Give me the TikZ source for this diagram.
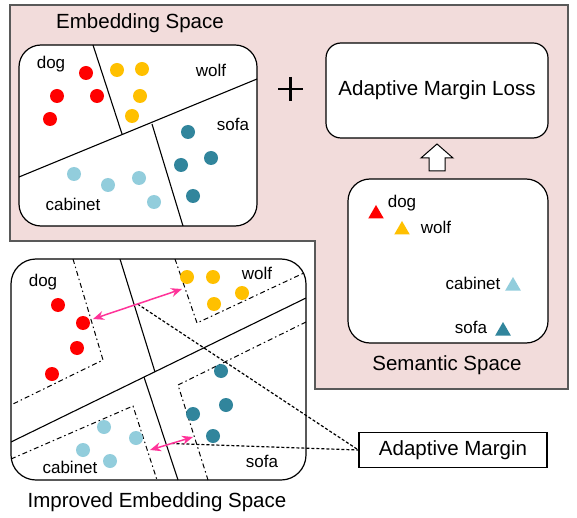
\documentclass[tikz,border=0pt]{standalone}
\usepackage{fontspec}
\setmainfont{Liberation Sans}
\usetikzlibrary{shapes.geometric,arrows.meta,calc}
\definecolor{pinkbg}{HTML}{F2DCDB}
\definecolor{cred}{HTML}{FF0000}
\definecolor{corange}{HTML}{FFC000}
\definecolor{cteal}{HTML}{31859C}
\definecolor{clblue}{HTML}{92CDDC}
\definecolor{cmag}{HTML}{FF3399}
\tikzset{
  dot/.style={circle,fill=#1,inner sep=0pt,minimum size=14pt},
  tri/.style={regular polygon,regular polygon sides=3,fill=#1,inner sep=0pt,minimum size=18pt},
  lbl/.style={font=\fontsize{17}{20}\selectfont,inner sep=1pt},
  ttl/.style={font=\fontsize{20.5}{24}\selectfont,inner sep=1pt},
  spacebox/.style={draw=black,line width=1.2pt,fill=white},
  sep/.style={line width=1.1pt},
  dashdot/.style={line width=1pt,dash pattern=on 5pt off 3pt on 1.5pt off 3pt},
  dotline/.style={line width=1.2pt,dash pattern=on 3pt off 2pt},
  marrow/.style={draw=cmag,line width=1.5pt,{Stealth[length=11pt,width=9pt]}-{Stealth[length=11pt,width=9pt]}}
}
\begin{document}
\begin{tikzpicture}[x=1pt,y=-1pt]
\useasboundingbox (0,0) rectangle (577,518);
% pink background
\draw[fill=pinkbg,draw=black!65,line width=1.4pt] (10,5) -- (568,5) -- (568,389) -- (315,389) -- (315,241) -- (10,241) -- cycle;
\node[ttl] (embtitle) at (140,23) {Embedding Space};
% Embedding space box
\draw[spacebox,rounded corners=22pt] (19,45) rectangle (257,226);
\begin{scope}
\clip[rounded corners=22pt] (19,45) rectangle (257,226);
\draw[sep] (93,45) -- (122,134);
\draw[sep] (19,177) -- (257,79);
\draw[sep] (152,124) -- (183,226);
\end{scope}
\node[dot=cred] (r1) at (86,73) {};
\node[dot=cred] (r2) at (57,96) {};
\node[dot=cred] (r3) at (97,96) {};
\node[dot=cred] (r4) at (50,119) {};
\node[dot=corange] (o1) at (117,70) {};
\node[dot=corange] (o2) at (142,69) {};
\node[dot=corange] (o3) at (140,96) {};
\node[dot=corange] (o4) at (132,116) {};
\node[dot=cteal] (t1) at (188,132) {};
\node[dot=cteal] (t2) at (211,158) {};
\node[dot=cteal] (t3) at (181,165) {};
\node[dot=cteal] (t4) at (193,196) {};
\node[dot=clblue] (b1) at (74,174) {};
\node[dot=clblue] (b2) at (108,185) {};
\node[dot=clblue] (b3) at (139,178) {};
\node[dot=clblue] (b4) at (154,202) {};
\node[lbl] (edog) at (51,64) {dog};
\node[lbl] (ewolf) at (211,70) {wolf};
\node[lbl] (esofa) at (233,124) {sofa};
\node[lbl] (ecab) at (73,204) {cabinet};
% plus
\draw[line width=2.4pt] (278,89) -- (303,89);
\draw[line width=2.4pt] (290.5,77) -- (290.5,101);
% Adaptive margin loss
\node[spacebox,rounded corners=15pt,minimum width=222pt,minimum height=95pt,ttl] (aml) at (437,90.5) {Adaptive Margin Loss};
% open arrow
\draw[fill=white,line width=1pt] (437,144) -- (453,158) -- (445,158) -- (445,171) -- (429,171) -- (429,158) -- (421,158) -- cycle;
% Semantic space box
\node[spacebox,rounded corners=22pt,minimum width=200pt,minimum height=164pt] (sem) at (448,261) {};
\node[ttl] (semtitle) at (447,365) {Semantic Space};
\node[tri=cred] (sr) at (376,214) {};
\node[lbl] (sdog) at (402,203) {dog};
\node[tri=corange] (so) at (402,230) {};
\node[lbl] (swolf) at (436,227) {wolf};
\node[tri=clblue] (sb) at (513,286) {};
\node[lbl] (scab) at (473,283) {cabinet};
\node[tri=cteal] (st) at (503,331) {};
\node[lbl] (ssofa) at (471,327) {sofa};
% Improved embedding space
\draw[spacebox,rounded corners=25pt] (11,259) rectangle (306,480);
\begin{scope}
\clip[rounded corners=25pt] (11,259) rectangle (306,480);
\draw[sep] (120,259) -- (155,372);
\draw[sep] (11,442) -- (306,298);
\draw[sep] (144,377) -- (178,480);
\draw[dashdot] (73,259) -- (103,360) -- (11,405);
\draw[dashdot] (175,259) -- (197,323) -- (306,272);
\draw[dashdot] (306,322) -- (178,385) -- (208,480);
\draw[dashdot] (11,459) -- (133,406) -- (157,480);
\end{scope}
\node[dot=cred] (ir1) at (58,305) {};
\node[dot=cred] (ir2) at (83,323) {};
\node[dot=cred] (ir3) at (77,348) {};
\node[dot=cred] (ir4) at (52,374) {};
\node[dot=corange] (io1) at (187,277) {};
\node[dot=corange] (io2) at (213,277) {};
\node[dot=corange] (io3) at (242,293) {};
\node[dot=corange] (io4) at (214,304) {};
\node[dot=cteal] (it1) at (221,371) {};
\node[dot=cteal] (it2) at (226,405) {};
\node[dot=cteal] (it3) at (193,414) {};
\node[dot=cteal] (it4) at (213,436) {};
\node[dot=clblue] (ib1) at (104,427) {};
\node[dot=clblue] (ib2) at (136,438) {};
\node[dot=clblue] (ib3) at (83,450) {};
\node[dot=clblue] (ib4) at (110,461) {};
\node[lbl] (idog) at (43,282) {dog};
\node[lbl] (iwolf) at (257,273) {wolf};
\node[lbl] (icab) at (70,467) {cabinet};
\node[lbl] (isofa) at (262,461) {sofa};
\node[ttl] (imptitle) at (157,502) {Improved Embedding Space};
% margin arrows
\coordinate (m1a) at (93,319);
\coordinate (m1b) at (182,289);
\coordinate (m2a) at (150,450);
\coordinate (m2b) at (193,437);
\coordinate (m1c) at ($(m1a)!0.5!(m1b)$);
\coordinate (m2c) at ($(m2a)!0.5!(m2b)$);
% Adaptive margin box
\node[draw=black,line width=1.2pt,fill=white,minimum width=188pt,minimum height=35pt,ttl] (am) at (453,450) {Adaptive Margin};
\draw[dotline] (m1c) -- (am.west);
\draw[dotline] (m2c) -- (am.west);
\draw[marrow] (m1a) -- (m1b);
\draw[marrow] (m2a) -- (m2b);
\end{tikzpicture}
\end{document}
